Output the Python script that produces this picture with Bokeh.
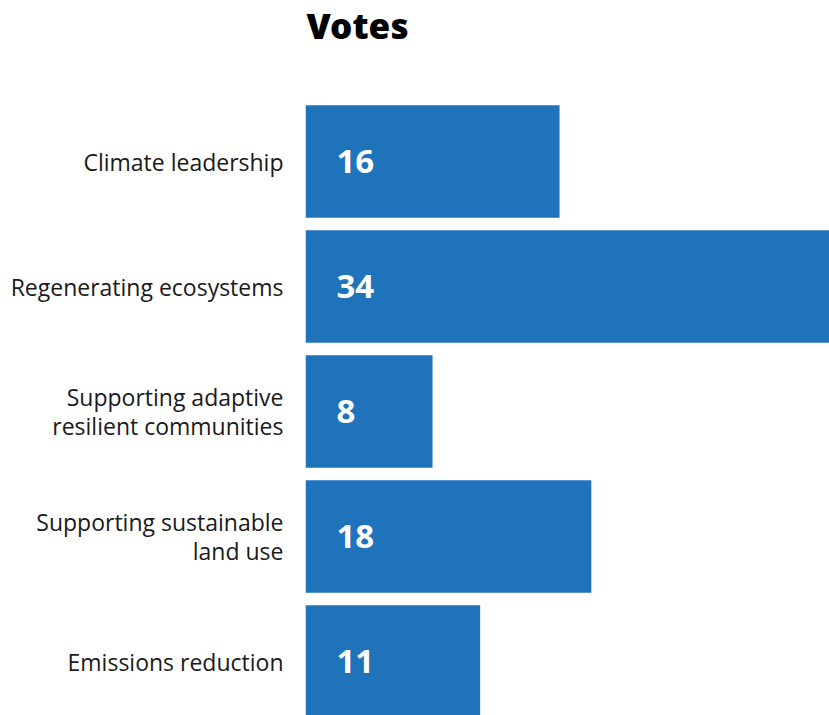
from bokeh.plotting import figure
from bokeh.models import ColumnDataSource, Range1d, FixedTicker, Label
from bokeh.core.properties import value
from bokeh.embed import file_html
from bokeh.resources import INLINE

categories = ["Climate leadership", "Regenerating ecosystems",
              "Supporting adaptive\nresilient communities",
              "Supporting sustainable\nland use", "Emissions reduction"]
votes = [16, 34, 8, 18, 11]
title_text = "Votes"

pos = list(range(len(categories)))
src = ColumnDataSource(dict(y=pos, v=votes, zero=[0] * len(votes),
                            lab=[str(v) for v in votes]))

p = figure(width=829, height=715, output_backend="svg", toolbar_location=None,
           x_range=Range1d(0, 33.0), y_range=Range1d(4.432, -1.288),
           min_border_left=305, min_border_right=0, min_border_bottom=0,
           min_border_top=0)

title = Label(x=0, y=690, x_units="data", y_units="screen", text=title_text,
              text_font="'Open Sans ExtraBold', 'Open Sans'", text_font_size="35px",
              text_font_style="bold", text_color="#000000",
              text_baseline="alphabetic", text_align="left", x_offset=1)
p.add_layout(title)

p.hbar(y="y", left="zero", right="v", height=0.9, source=src,
       fill_color="#1f73bb", line_color=None)
p.text(x="zero", y="y", text="lab", source=src, x_offset=31,
       text_baseline="middle", text_align="left", text_color="white",
       text_font=value("Open Sans"), text_font_size="33px",
       text_font_style="bold")

p.xaxis.visible = False
p.yaxis.ticker = FixedTicker(ticks=pos)
p.yaxis.major_label_overrides = {i: c for i, c in zip(pos, categories)}
p.yaxis.axis_line_color = None
p.yaxis.major_tick_line_color = None
p.yaxis.minor_tick_line_color = None
p.yaxis.major_label_standoff = 16
p.yaxis.major_label_text_font = "Open Sans"
p.yaxis.major_label_text_font_size = "23px"
p.yaxis.major_label_text_color = "#1a1a1a"
p.yaxis.major_label_text_line_height = 0.91
p.xgrid.visible = False
p.ygrid.visible = False
p.outline_line_color = None

open("out.html", "w").write(file_html(p, INLINE))
